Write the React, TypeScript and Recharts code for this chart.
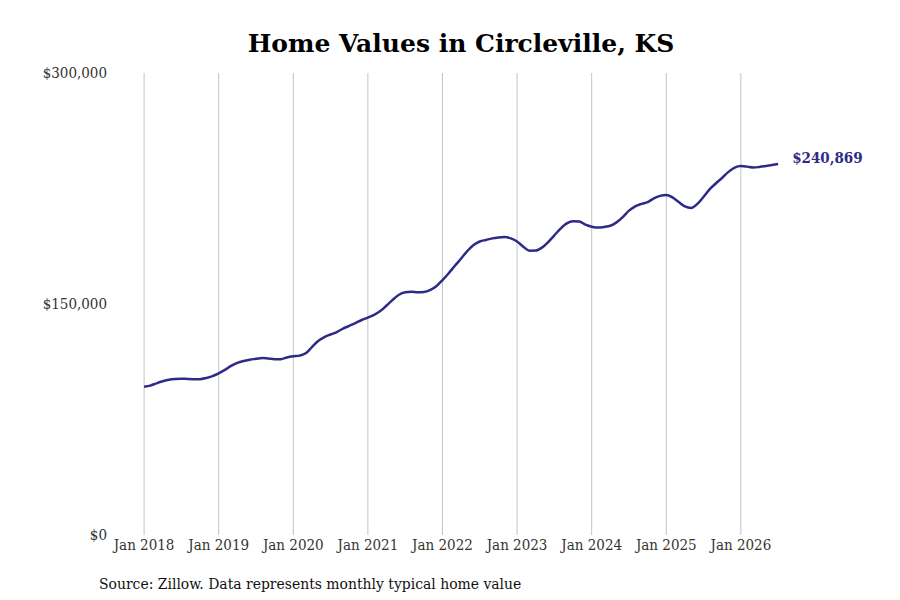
import { LineChart, Line, XAxis, YAxis, ReferenceLine } from 'recharts';

// monthly typical home value, Jan 2018 .. Jul 2026 (USD)
const values2018 = [96300, 97000, 98500, 99800, 100800, 101300, 101500, 101300, 101200, 101200, 102000, 103200];
const values2019 = [105000, 107200, 109800, 111800, 113000, 113800, 114400, 115000, 114600, 114100, 114200, 115300];
const values2020 = [116000, 116500, 118000, 122000, 126000, 128500, 130200, 131800, 134000, 135800, 137600, 139600];
const values2021 = [141200, 143000, 145400, 149000, 152800, 156000, 157600, 158000, 157600, 157800, 159000, 161500];
const values2022 = [165500, 170000, 174800, 179500, 184400, 188300, 190600, 191600, 192600, 193200, 193500, 192600];
const values2023 = [190600, 187200, 184600, 184700, 186600, 190200, 194600, 199000, 202400, 203800, 203600, 201500];
const values2024 = [200200, 199600, 200000, 200800, 203000, 206400, 210600, 213400, 215000, 216200, 218600, 220200];
const values2025 = [220800, 219200, 216200, 213400, 212400, 215000, 219600, 224600, 228400, 232000, 235800, 238600];
const values2026 = [239600, 239200, 238600, 239000, 239600, 240200, 240869];

const years = [2018, 2019, 2020, 2021, 2022, 2023, 2024, 2025, 2026];
const yTicks = [0, 150000, 300000];
const xTicks = years.map((_, i) => i * 12);

const allValues = [
  ...values2018, ...values2019, ...values2020, ...values2021, ...values2022,
  ...values2023, ...values2024, ...values2025, ...values2026,
];
const data = allValues.map((value, month) => ({ month, value }));

const LINE = '#2e2b87';
const FONT = '"DejaVu Serif Condensed", "DejaVu Serif", serif';

const fmtMoney = (v: number) => '$' + v.toLocaleString('en-US');

function EndLabel(props: any) {
  const { x, y, index } = props;
  if (index !== data.length - 1) return null;
  return (
    <text x={x + 14} y={y - 1} fill={LINE} fontFamily={FONT} fontWeight="bold" fontSize={15}>
      {fmtMoney(data[index].value)}
    </text>
  );
}

export default function App() {
  return (
    <div style={{ position: 'absolute', left: 0, top: 0, width: 900, height: 600, background: '#fff' }}>
      <div style={{ position: 'absolute', top: 29, left: 11, width: 900, textAlign: 'center', fontFamily: '"DejaVu Serif", serif', fontWeight: 'bold', fontSize: 25, color: '#000' }}>
        Home Values in Circleville, KS
      </div>
      <LineChart width={900} height={600} data={data} margin={{ top: 73, right: 41, left: 1, bottom: 35 }}>
        <XAxis
          dataKey="month"
          type="number"
          domain={[-5, 115]}
          ticks={xTicks}
          tickFormatter={(m: number) => 'Jan ' + years[m / 12]}
          tickLine={false}
          axisLine={false}
          tickSize={0}
          tickMargin={4}
          height={30}
          tick={{ fill: '#333', fontSize: 15, fontFamily: FONT }}
        />
        <YAxis
          domain={[0, 300000]}
          ticks={yTicks}
          tickFormatter={fmtMoney}
          tickLine={false}
          axisLine={false}
          tickSize={0}
          tickMargin={6}
          width={112}
          tick={{ fill: '#333', fontSize: 15, fontFamily: FONT }}
        />
        {xTicks.map((t) => (
          <ReferenceLine key={t} x={t} stroke="#c4c4c4" strokeWidth={1} />
        ))}
        <Line
          type="monotone"
          dataKey="value"
          stroke={LINE}
          strokeWidth={2.5}
          dot={false}
          isAnimationActive={false}
          label={<EndLabel />}
        />
      </LineChart>
      <div style={{ position: 'absolute', top: 575, left: 99, fontFamily: FONT, fontSize: 15.5, color: '#111' }}>
        Source: Zillow. Data represents monthly typical home value
      </div>
    </div>
  );
}
